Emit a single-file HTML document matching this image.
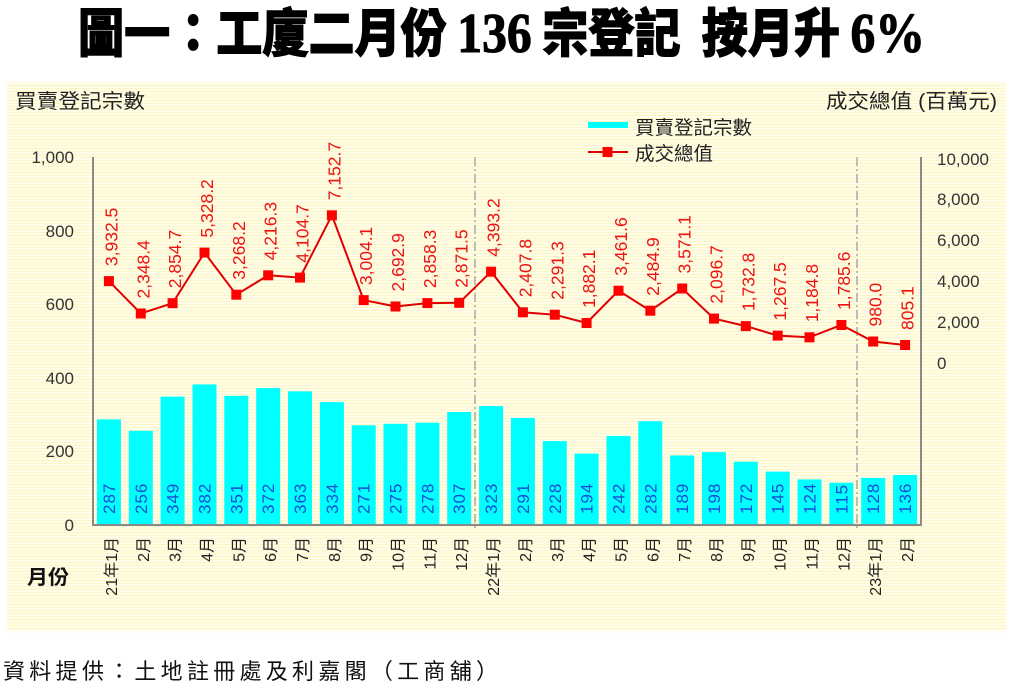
<!DOCTYPE html>
<html><head><meta charset="utf-8">
<style>
html,body{margin:0;padding:0;background:#fff;}
body{width:1015px;height:687px;position:relative;overflow:hidden;}
#panel{position:absolute;left:8px;top:83px;width:997px;height:547px;
background:repeating-linear-gradient(to bottom,#fffde8 0px,#fffde8 2px,#fcf5c6 2px,#fcf5c6 3px);
box-shadow:0 0 3px 1px #fffbe4;}
svg{position:absolute;left:0;top:0;}
text{font-family:"Liberation Sans","Noto Sans CJK TC",sans-serif;}
</style></head><body>
<div id="panel"></div>
<svg width="1015" height="687" viewBox="0 0 1015 687" xmlns="http://www.w3.org/2000/svg">
<!-- Title -->
<text x="78" y="52" textLength="847" lengthAdjust="spacingAndGlyphs" font-size="52" font-weight="900" fill="#000" stroke="#000" stroke-width="1.1" style="white-space:pre;font-family:'Noto Sans CJK TC','Noto Sans CJK SC',sans-serif;">圖一：工廈二月份 <tspan font-family="Liberation Serif" font-size="56" font-weight="bold">136</tspan> 宗登記  按月升 <tspan font-family="Liberation Serif" font-size="56" font-weight="bold">6%</tspan></text>

<!-- axis titles -->
<text x="15" y="108" font-size="20" fill="#222" textLength="130" lengthAdjust="spacingAndGlyphs">買賣登記宗數</text>
<text x="826" y="108" font-size="20" fill="#222" textLength="171" lengthAdjust="spacingAndGlyphs" style="white-space:pre">成交總值 (百萬元)</text>
<text x="27" y="584" font-size="20" font-weight="bold" fill="#111" textLength="42" lengthAdjust="spacingAndGlyphs">月份</text>

<!-- legend -->
<line x1="588" y1="125" x2="628" y2="125" stroke="#00ffff" stroke-width="6"/>
<text x="635" y="134" font-size="19" fill="#222" textLength="117" lengthAdjust="spacingAndGlyphs">買賣登記宗數</text>
<line x1="588" y1="152" x2="628" y2="152" stroke="#e00000" stroke-width="2"/>
<rect x="602.5" y="147" width="10" height="10" fill="#ff0000"/>
<text x="635" y="160" font-size="19" fill="#222" textLength="78" lengthAdjust="spacingAndGlyphs">成交總值</text>

<!-- left ticks -->
<g font-size="17" fill="#333" text-anchor="end">
<text x="74" y="163">1,000</text>
<text x="74" y="237">800</text>
<text x="74" y="310">600</text>
<text x="74" y="384">400</text>
<text x="74" y="457">200</text>
<text x="74" y="531">0</text>
</g>
<!-- right ticks -->
<g font-size="17" fill="#333">
<text x="937" y="165">10,000</text>
<text x="937" y="205">8,000</text>
<text x="937" y="246">6,000</text>
<text x="937" y="287">4,000</text>
<text x="937" y="328">2,000</text>
<text x="937" y="369">0</text>
</g>

<!-- bars -->
<g fill="#00ffff">
<rect x="96.9" y="419.4" width="24" height="105.6"/>
<rect x="128.8" y="430.8" width="24" height="94.2"/>
<rect x="160.6" y="396.6" width="24" height="128.4"/>
<rect x="192.5" y="384.4" width="24" height="140.6"/>
<rect x="224.3" y="395.8" width="24" height="129.2"/>
<rect x="256.2" y="388.1" width="24" height="136.9"/>
<rect x="288.0" y="391.4" width="24" height="133.6"/>
<rect x="319.9" y="402.1" width="24" height="122.9"/>
<rect x="351.7" y="425.3" width="24" height="99.7"/>
<rect x="383.5" y="423.8" width="24" height="101.2"/>
<rect x="415.4" y="422.7" width="24" height="102.3"/>
<rect x="447.2" y="412.0" width="24" height="113.0"/>
<rect x="479.1" y="406.1" width="24" height="118.9"/>
<rect x="510.9" y="417.9" width="24" height="107.1"/>
<rect x="542.8" y="441.1" width="24" height="83.9"/>
<rect x="574.6" y="453.6" width="24" height="71.4"/>
<rect x="606.5" y="435.9" width="24" height="89.1"/>
<rect x="638.3" y="421.2" width="24" height="103.8"/>
<rect x="670.2" y="455.4" width="24" height="69.6"/>
<rect x="702.0" y="452.1" width="24" height="72.9"/>
<rect x="733.8" y="461.7" width="24" height="63.3"/>
<rect x="765.7" y="471.6" width="24" height="53.4"/>
<rect x="797.5" y="479.4" width="24" height="45.6"/>
<rect x="829.4" y="482.7" width="24" height="42.3"/>
<rect x="861.2" y="477.9" width="24" height="47.1"/>
<rect x="893.1" y="475.0" width="24" height="50.0"/>
</g>

<!-- bar labels -->
<g font-size="17" fill="#1a4cd4" letter-spacing="1">
<text transform="translate(115,514) rotate(-90)">287</text>
<text transform="translate(146.8,514) rotate(-90)">256</text>
<text transform="translate(178.6,514) rotate(-90)">349</text>
<text transform="translate(210.5,514) rotate(-90)">382</text>
<text transform="translate(242.3,514) rotate(-90)">351</text>
<text transform="translate(274.2,514) rotate(-90)">372</text>
<text transform="translate(306,514) rotate(-90)">363</text>
<text transform="translate(337.9,514) rotate(-90)">334</text>
<text transform="translate(369.7,514) rotate(-90)">271</text>
<text transform="translate(401.5,514) rotate(-90)">275</text>
<text transform="translate(433.4,514) rotate(-90)">278</text>
<text transform="translate(465.2,514) rotate(-90)">307</text>
<text transform="translate(497.1,514) rotate(-90)">323</text>
<text transform="translate(528.9,514) rotate(-90)">291</text>
<text transform="translate(560.8,514) rotate(-90)">228</text>
<text transform="translate(592.6,514) rotate(-90)">194</text>
<text transform="translate(624.5,514) rotate(-90)">242</text>
<text transform="translate(656.3,514) rotate(-90)">282</text>
<text transform="translate(688.2,514) rotate(-90)">189</text>
<text transform="translate(720,514) rotate(-90)">198</text>
<text transform="translate(751.8,514) rotate(-90)">172</text>
<text transform="translate(783.7,514) rotate(-90)">145</text>
<text transform="translate(815.5,514) rotate(-90)">124</text>
<text transform="translate(847.4,514) rotate(-90)">115</text>
<text transform="translate(879.2,514) rotate(-90)">128</text>
<text transform="translate(911.1,514) rotate(-90)">136</text>
</g>

<!-- dash-dot separators -->
<g stroke="#a8a8a8" stroke-width="1.5" stroke-dasharray="9,3,2,3">
<line x1="475" y1="157" x2="475" y2="530"/>
<line x1="857" y1="157" x2="857" y2="530"/>
</g>

<!-- axes -->
<g stroke="#8a8a8a" stroke-width="2">
<line x1="93" y1="157" x2="93" y2="526"/>
<line x1="921" y1="157" x2="921" y2="526"/>
<line x1="92" y1="525" x2="922" y2="525"/>
</g>

<!-- line series -->
<polyline fill="none" stroke="#e00000" stroke-width="2" points="108.9,281.1 140.8,313.5 172.6,303.2 204.5,252.6 236.3,294.7 268.2,275.3 300,277.6 331.9,215.3 363.7,300.1 395.5,306.5 427.4,303.1 459.2,302.8 491.1,271.7 522.9,312.3 554.8,314.7 586.6,323 618.5,290.7 650.3,310.7 682.2,288.5 714,318.6 745.8,326.1 777.7,335.6 809.5,337.3 841.4,325 873.2,341.5 905.1,345"/>
<g fill="#ff0000">
<rect x="103.9" y="276.1" width="10" height="10"/>
<rect x="135.8" y="308.5" width="10" height="10"/>
<rect x="167.6" y="298.2" width="10" height="10"/>
<rect x="199.5" y="247.6" width="10" height="10"/>
<rect x="231.3" y="289.7" width="10" height="10"/>
<rect x="263.2" y="270.3" width="10" height="10"/>
<rect x="295" y="272.6" width="10" height="10"/>
<rect x="326.9" y="210.3" width="10" height="10"/>
<rect x="358.7" y="295.1" width="10" height="10"/>
<rect x="390.5" y="301.5" width="10" height="10"/>
<rect x="422.4" y="298.1" width="10" height="10"/>
<rect x="454.2" y="297.8" width="10" height="10"/>
<rect x="486.1" y="266.7" width="10" height="10"/>
<rect x="517.9" y="307.3" width="10" height="10"/>
<rect x="549.8" y="309.7" width="10" height="10"/>
<rect x="581.6" y="318" width="10" height="10"/>
<rect x="613.5" y="285.7" width="10" height="10"/>
<rect x="645.3" y="305.7" width="10" height="10"/>
<rect x="677.2" y="283.5" width="10" height="10"/>
<rect x="709" y="313.6" width="10" height="10"/>
<rect x="740.8" y="321.1" width="10" height="10"/>
<rect x="772.7" y="330.6" width="10" height="10"/>
<rect x="804.5" y="332.3" width="10" height="10"/>
<rect x="836.4" y="320" width="10" height="10"/>
<rect x="868.2" y="336.5" width="10" height="10"/>
<rect x="900.1" y="340" width="10" height="10"/>
</g>

<!-- line labels -->
<g font-size="17.5" fill="#ee1111">
<text transform="translate(117.4,266.1) rotate(-90)">3,932.5</text>
<text transform="translate(149.3,298.5) rotate(-90)">2,348.4</text>
<text transform="translate(181.1,288.2) rotate(-90)">2,854.7</text>
<text transform="translate(213,237.6) rotate(-90)">5,328.2</text>
<text transform="translate(244.8,279.7) rotate(-90)">3,268.2</text>
<text transform="translate(276.7,260.3) rotate(-90)">4,216.3</text>
<text transform="translate(308.5,262.6) rotate(-90)">4,104.7</text>
<text transform="translate(340.4,200.3) rotate(-90)">7,152.7</text>
<text transform="translate(372.2,285.1) rotate(-90)">3,004.1</text>
<text transform="translate(404,291.5) rotate(-90)">2,692.9</text>
<text transform="translate(435.9,288.1) rotate(-90)">2,858.3</text>
<text transform="translate(467.7,287.8) rotate(-90)">2,871.5</text>
<text transform="translate(499.6,256.7) rotate(-90)">4,393.2</text>
<text transform="translate(531.4,297.3) rotate(-90)">2,407.8</text>
<text transform="translate(563.3,299.7) rotate(-90)">2,291.3</text>
<text transform="translate(595.1,308) rotate(-90)">1,882.1</text>
<text transform="translate(627,275.7) rotate(-90)">3,461.6</text>
<text transform="translate(658.8,295.7) rotate(-90)">2,484.9</text>
<text transform="translate(690.7,273.5) rotate(-90)">3,571.1</text>
<text transform="translate(722.5,303.6) rotate(-90)">2,096.7</text>
<text transform="translate(754.3,311.1) rotate(-90)">1,732.8</text>
<text transform="translate(786.2,320.6) rotate(-90)">1,267.5</text>
<text transform="translate(818,322.3) rotate(-90)">1,184.8</text>
<text transform="translate(849.9,310) rotate(-90)">1,785.6</text>
<text transform="translate(881.7,326.5) rotate(-90)">980.0</text>
<text transform="translate(913.6,330) rotate(-90)">805.1</text>
</g>

<!-- x labels -->
<g font-size="16" fill="#222" text-anchor="end">
<text transform="translate(116.9,537) rotate(-90)">21年1月</text>
<text transform="translate(148.8,537) rotate(-90)">2月</text>
<text transform="translate(180.6,537) rotate(-90)">3月</text>
<text transform="translate(212.5,537) rotate(-90)">4月</text>
<text transform="translate(244.3,537) rotate(-90)">5月</text>
<text transform="translate(276.2,537) rotate(-90)">6月</text>
<text transform="translate(308,537) rotate(-90)">7月</text>
<text transform="translate(339.9,537) rotate(-90)">8月</text>
<text transform="translate(371.7,537) rotate(-90)">9月</text>
<text transform="translate(403.5,537) rotate(-90)">10月</text>
<text transform="translate(435.4,537) rotate(-90)">11月</text>
<text transform="translate(467.2,537) rotate(-90)">12月</text>
<text transform="translate(499.1,537) rotate(-90)">22年1月</text>
<text transform="translate(530.9,537) rotate(-90)">2月</text>
<text transform="translate(562.8,537) rotate(-90)">3月</text>
<text transform="translate(594.6,537) rotate(-90)">4月</text>
<text transform="translate(626.5,537) rotate(-90)">5月</text>
<text transform="translate(658.3,537) rotate(-90)">6月</text>
<text transform="translate(690.2,537) rotate(-90)">7月</text>
<text transform="translate(722,537) rotate(-90)">8月</text>
<text transform="translate(753.8,537) rotate(-90)">9月</text>
<text transform="translate(785.7,537) rotate(-90)">10月</text>
<text transform="translate(817.5,537) rotate(-90)">11月</text>
<text transform="translate(849.4,537) rotate(-90)">12月</text>
<text transform="translate(881.2,537) rotate(-90)">23年1月</text>
<text transform="translate(913.1,537) rotate(-90)">2月</text>
</g>

<!-- footer -->
<text x="3" y="679" font-size="22" fill="#111" textLength="495" lengthAdjust="spacing">資料提供：土地註冊處及利嘉閣（工商舖）</text>
</svg>
</body></html>
